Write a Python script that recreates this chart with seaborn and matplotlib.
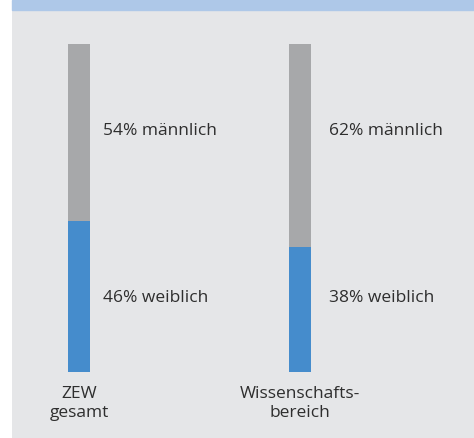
import pandas as pd
import matplotlib.pyplot as plt
import seaborn as sns
from matplotlib.patches import Rectangle

# values (percent)
groups = ['ZEW\ngesamt', 'Wissenschafts-\nbereich']
maennlich = [54, 62]
weiblich = [46, 38]

df = pd.DataFrame({'gruppe': groups, 'maennlich': maennlich, 'weiblich': weiblich})
df['total'] = df['maennlich'] + df['weiblich']

sns.set_style('white')
plt.rcParams['font.family'] = ['Open Sans', 'DejaVu Sans']

fig = plt.figure(figsize=(4.74, 4.38), dpi=100)
W, H = 474, 438
# light blue band on top
fig.patches.append(Rectangle((12 / W, 1 - 10 / H), 1 - 12 / W, 10 / H,
                             transform=fig.transFigure, color='#aec8e8', zorder=0))
ax = fig.add_axes([12 / W, 0, 1 - 12 / W, 1 - 10 / H])
ax.set_facecolor('#e5e6e8')

sns.barplot(data=df, x='gruppe', y='total', color='#a7a8aa', width=0.1,
            saturation=1, linewidth=0, ax=ax)
sns.barplot(data=df, x='gruppe', y='weiblich', color='#458ccc', width=0.1,
            saturation=1, linewidth=0, ax=ax)

ax.set_xlim(-0.303, 1.787)
ax.set_ylim(-20.1, 110.4)

txt = '#2e2e2e'
offsets = [0.109, 0.131]
for i, (m, w) in enumerate(zip(maennlich, weiblich)):
    ax.text(i + offsets[i], 73.5, f'{m}% männlich', va='center', ha='left',
            fontsize=12.5, color=txt)
    ax.text(i + offsets[i], 22.5, f'{w}% weiblich', va='center', ha='left',
            fontsize=12.5, color=txt)

for i, g in enumerate(groups):
    ax.text(i, -4.3, g, ha='center', va='top', fontsize=12.5, color=txt,
            linespacing=1.25)

ax.set_xticks([])
ax.set_yticks([])
ax.set_xlabel('')
ax.set_ylabel('')
for s in ax.spines.values():
    s.set_visible(False)

fig.savefig('out.png', dpi=100)
